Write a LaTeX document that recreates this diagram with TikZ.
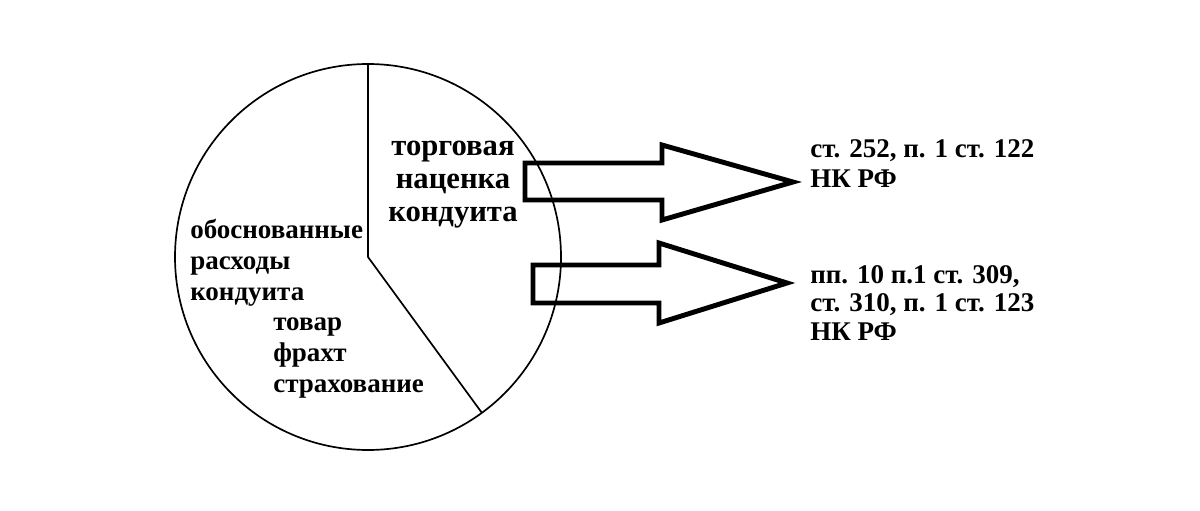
\documentclass[tikz,border=0pt]{standalone}
\usepackage{fontspec}
\setmainfont{Liberation Serif}
\begin{document}
\begin{tikzpicture}[x=0.025cm,y=-0.025cm,
  lbl/.style={font=\bfseries\fontsize{19.2}{22}\selectfont, inner sep=0pt, align=left, anchor=base west},
  bigarrow/.style={line width=3.5pt, line join=miter},
  pie/.style={line width=1.2pt}]
\useasboundingbox (0,0) rectangle (1200,511);

% pie
\coordinate (ctr) at (368,257);
\draw[pie] (ctr) circle [radius=193];
\draw[pie] (368,64) -- (ctr) -- (482,413);

% labels (anchor = baseline of last line)
\node[lbl, align=center, anchor=base, font=\bfseries\fontsize{21.8}{23.2}\selectfont] (markup) at (453,221) {торговая\\наценка\\кондуита};
\node[lbl] (costs) at (190,300) {обоснованные\\расходы\\кондуита};
\node[lbl] (items) at (273,392) {товар\\фрахт\\страхование};

% block arrows
\draw[bigarrow] (525,163) -- (662,163) -- (662,145) -- (793,182) -- (662,220) -- (662,200) -- (525,200) -- cycle;
\draw[bigarrow] (533,265) -- (659,265) -- (659,243) -- (787,283) -- (659,323) -- (659,303) -- (533,303) -- cycle;

\node[lbl] (law1) at (810,188) {ст. 252, п. 1 ст. 122\\НК РФ};
\node[lbl] (law2) at (810,340) {пп. 10 п.1 ст. 309,\\[-2pt]ст. 310, п. 1 ст. 123\\[-2pt]НК РФ};

\end{tikzpicture}
\end{document}
